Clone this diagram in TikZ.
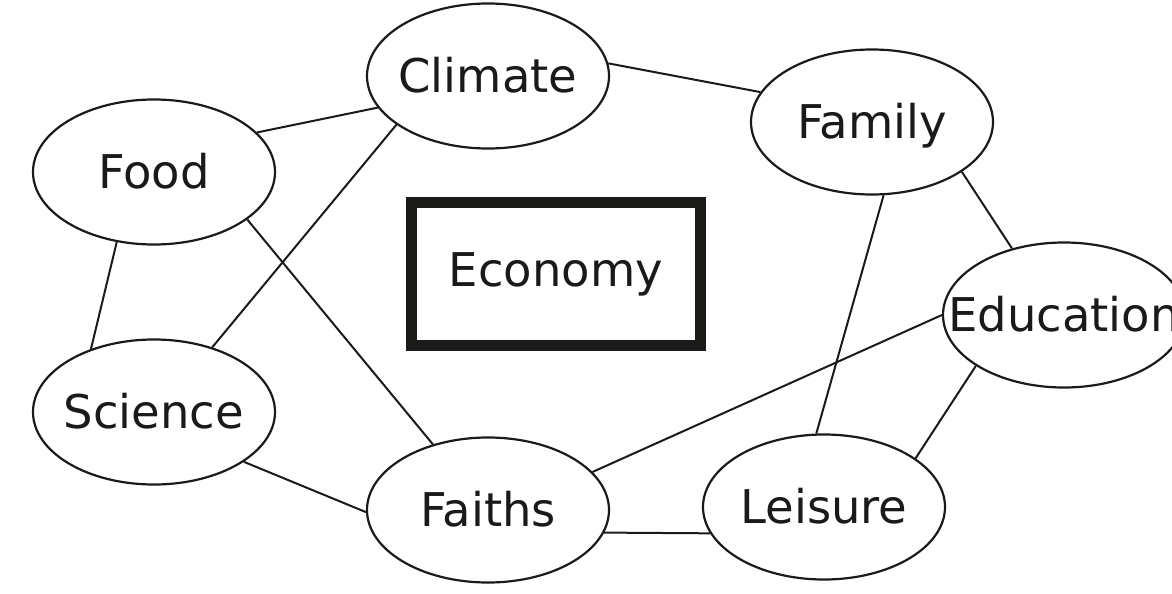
\documentclass[tikz,border=0pt]{standalone}
\usepackage{fontspec}
\setmainfont{DejaVu Sans}
\usetikzlibrary{shapes.geometric}
\definecolor{ink}{HTML}{1A1A18}
\begin{document}
\begin{tikzpicture}[x=1pt,y=-1pt,
  bub/.style={ellipse, draw=ink, text=ink, line width=2.2pt, minimum width=242pt, minimum height=145pt,
    inner sep=0pt, text height=33.5pt, text depth=0pt,
    font=\fontsize{46.5}{50}\selectfont},
  framebox/.style={draw=ink, text=ink, line width=11.3pt, minimum width=289pt, minimum height=143pt,
    inner sep=0pt, font=\fontsize{46.5}{50}\selectfont},
  link/.style={draw=ink, line width=2pt}]
\useasboundingbox (0,0) rectangle (1172,594);
\clip (0,0) rectangle (1172,594);
\node[bub] (climate) at (488,76) {\makebox[0pt]{Climate}};
\node[bub] (food) at (154,172) {\makebox[0pt]{Food}};
\node[bub] (family) at (872,122) {\makebox[0pt]{Family}};
\node[bub] (education) at (1064,315) {\makebox[0pt]{Education}};
\node[bub] (science) at (154,412) {\makebox[0pt]{Science}};
\node[bub] (faiths) at (488,510) {\makebox[0pt]{Faiths}};
\node[bub] (leisure) at (824,507) {\makebox[0pt]{Leisure}};
\node[framebox] (economy) at (556,274) {Economy};
\draw[link] (food.21) -- (climate.196);
\draw[link] (climate.6.7) -- (family.165);
\draw[link] (climate.208) -- (science.48);
\draw[link] (food.242) -- (science.135);
\draw[link] (food.333) -- (faiths.130);
\draw[link] (family.331) -- (education.128);
\draw[link] (family.279) -- (leisure.96);
\draw[link] (education.180) -- (faiths.20);
\draw[link] (education.210) -- (leisure.28);
\draw[link] (science.331) -- (faiths.181);
\draw[link] (faiths.349) -- (leisure.193);
\end{tikzpicture}
\end{document}
